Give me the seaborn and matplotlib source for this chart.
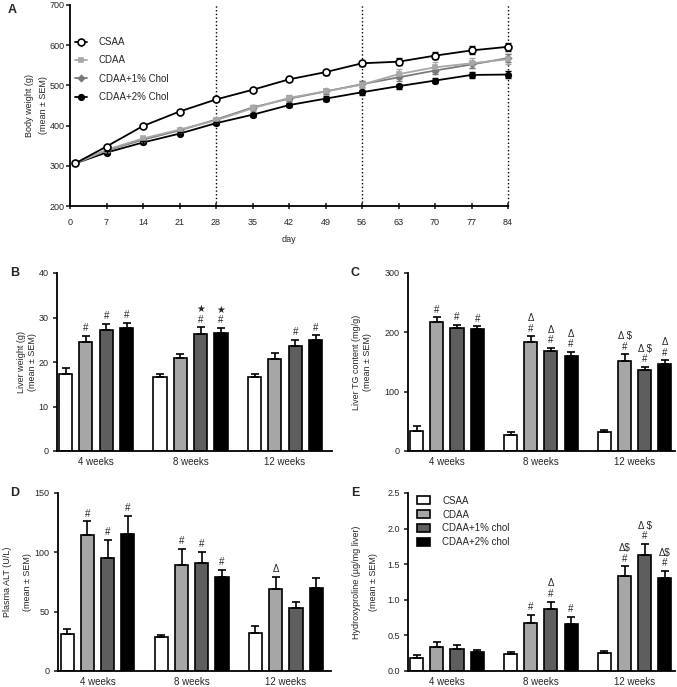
import numpy as np
import pandas as pd
import seaborn as sns
import matplotlib.pyplot as plt
import matplotlib.ticker as ticker

# body weight over time (panel A)
days = [1, 7, 14, 21, 28, 35, 42, 49, 56, 63, 70, 77, 84]
bw_csaa = [306, 348, 399, 435, 465, 489, 515, 533, 555, 559, 574, 587, 596]
bw_cdaa = [306, 340, 368, 390, 413, 443, 469, 485, 502, 528, 545, 555, 565]
bw_chol1 = [306, 338, 365, 388, 415, 445, 467, 485, 503, 520, 537, 552, 568]
bw_chol2 = [306, 333, 358, 380, 406, 427, 451, 467, 483, 498, 512, 526, 527]
bw_csaa_sem = [3, 4, 4, 4, 4, 5, 5, 6, 6, 8, 9, 10, 10]
bw_cdaa_sem = [3, 4, 4, 5, 5, 6, 6, 7, 8, 12, 12, 12, 12]
bw_chol1_sem = [3, 3, 4, 4, 5, 5, 6, 6, 7, 8, 8, 9, 10]
bw_chol2_sem = [3, 3, 4, 4, 4, 5, 5, 6, 6, 6, 6, 7, 8]
line_labels = ['CSAA', 'CDAA', 'CDAA+1% Chol', 'CDAA+2% Chol']
sample_days = [28, 56, 84]

# bar panels, rows = diet, columns = week
weeks = ['4 weeks', '8 weeks', '12 weeks']
diets = ['CSAA', 'CDAA', 'CDAA+1% chol', 'CDAA+2% chol']

liver_wt = [[17.2, 16.7, 16.6], [24.5, 20.8, 20.6], [27.3, 26.2, 23.7], [27.7, 26.5, 25.0]]
liver_wt_sem = [[1.5, 0.6, 0.7], [1.4, 1.1, 1.5], [1.2, 1.6, 1.2], [1.1, 1.2, 1.0]]
liver_wt_marks = [['', '', ''], ['#', '', ''], ['#', '\u2605\n#', '#'], ['#', '\u2605\n#', '#']]

liver_tg = [[33.7, 27.5, 31.5], [218, 184, 151], [208, 169, 136], [205, 160, 146]]
liver_tg_sem = [[8.4, 4.0, 4.5], [7.3, 9.0, 11.8], [4.5, 4.5, 6.0], [5.0, 7.3, 6.8]]
liver_tg_marks = [['', '', ''], ['#', '\u0394\n#', '\u0394 $\n#'],
                  ['#', '\u0394\n#', '\u0394 $\n#'], ['#', '\u0394\n#', '\u0394\n#']]

alt = [[31.2, 28.4, 32.3], [114.6, 89.3, 69.1], [95.2, 90.7, 52.8], [115.4, 79.5, 70.2]]
alt_sem = [[4.2, 1.7, 5.9], [11.5, 13.5, 10.1], [15.2, 9.6, 5.6], [15.2, 5.6, 7.9]]
alt_marks = [['', '', ''], ['#', '#', '\u0394'], ['#', '#', ''], ['#', '#', '']]

hyp = [[0.183, 0.243, 0.253], [0.342, 0.67, 1.334], [0.314, 0.871, 1.625], [0.272, 0.66, 1.306]]
hyp_sem = [[0.037, 0.03, 0.023], [0.06, 0.117, 0.136], [0.056, 0.103, 0.155], [0.023, 0.098, 0.098]]
hyp_marks = [['', '', ''], ['', '#', '\u0394$\n#'], ['', '\u0394\n#', '\u0394 $\n#'], ['', '#', '\u0394$\n#']]

bar_cols = ['white', '#a6a6a6', '#5e5e5e', 'black']
line_cols = ['black', '#a8a8a8', '#7a7a7a', 'black']

sns.set_style('ticks')
plt.rcParams['font.family'] = ['Liberation Sans', 'DejaVu Sans']
plt.rcParams['axes.linewidth'] = 1.3
plt.rcParams['axes.edgecolor'] = 'black'

W, H = 677.0, 687.0
fig = plt.figure(figsize=(W / 100, H / 100), dpi=100)


def px_axes(l, r, t, b):
    return fig.add_axes([l / W, 1 - b / H, (r - l) / W, (b - t) / H])


def bar_panel(ax, means, sems, marks, ylabel, ymax, ystep, xlim, lab_x, lab_ls, fmt=None, legend=False):
    rows = []
    for d, diet in enumerate(diets):
        for w, week in enumerate(weeks):
            rows.append((week, diet, means[d][w], sems[d][w]))
    df = pd.DataFrame(rows, columns=['week', 'diet', 'value', 'sem'])
    sns.barplot(data=df, x='week', y='value', hue='diet', order=weeks, hue_order=diets,
                palette=bar_cols, saturation=1, edgecolor='black', linewidth=1.2,
                width=0.86, gap=0.35, errorbar=None, legend=legend, ax=ax)
    bars = sorted([p for c in ax.containers for p in c], key=lambda p: p.get_x())
    for i, p in enumerate(bars):
        w, d = i // 4, i % 4
        xc = p.get_x() + p.get_width() / 2
        top = p.get_height()
        err = sems[d][w]
        ax.errorbar([xc], [top], yerr=[[0], [err]], fmt='none', ecolor='black',
                    elinewidth=1.2, capsize=3, capthick=1.2, zorder=1)
        if marks[d][w]:
            ax.annotate(marks[d][w], xy=(xc, top + err), xytext=(0, 2), textcoords='offset points',
                        ha='center', va='bottom', fontsize=7, linespacing=1.05)
    ax.set_xlim(xlim)
    ax.set_ylim(0, ymax)
    ax.yaxis.set_major_locator(ticker.MultipleLocator(ystep))
    if fmt:
        ax.yaxis.set_major_formatter(ticker.FormatStrFormatter(fmt))
    ax.set_xlabel('')
    ax.set_ylabel(ylabel, fontsize=6.5, linespacing=lab_ls)
    ax.yaxis.set_label_coords(lab_x, 0.5)
    ax.tick_params(axis='y', direction='out', length=3, width=1.2, labelsize=6.5, pad=3)
    ax.tick_params(axis='x', length=0, labelsize=7, pad=4.5)
    sns.despine(ax=ax)
    if legend:
        sns.move_legend(ax, 'upper left', bbox_to_anchor=(0.035, 0.985), title=None, frameon=False,
                        fontsize=7, handlelength=1.35, handleheight=0.93, handletextpad=1.2,
                        labelspacing=0.4, borderpad=0, borderaxespad=0)


# ---- panel A ----
axA = px_axes(70, 508, 5, 206)
series = [(bw_csaa, bw_csaa_sem, 'o', 'white', 5),
          (bw_cdaa, bw_cdaa_sem, 's', line_cols[1], 3),
          (bw_chol1, bw_chol1_sem, 'D', line_cols[2], 3),
          (bw_chol2, bw_chol2_sem, 'o', 'black', 4)]
for k, (vals, sem, mk, mfc, ms) in enumerate(series):
    col = line_cols[k]
    axA.errorbar(days, vals, yerr=sem, fmt='none', ecolor=col, elinewidth=1, capsize=2,
                 capthick=1, clip_on=False, zorder=2 + k)
    sns.lineplot(x=days, y=vals, ax=axA, color=col, lw=1.3, marker=mk, markersize=ms,
                 markerfacecolor=mfc, markeredgecolor=col if k else 'black', markeredgewidth=1.2,
                 label=line_labels[k], clip_on=False, zorder=6 - k)
for d in sample_days:
    axA.axvline(d, ls=':', color='black', lw=1, zorder=1, clip_on=False)
axA.set_xlim(0, 84)
axA.set_ylim(200, 700)
axA.xaxis.set_major_locator(ticker.MultipleLocator(7))
axA.yaxis.set_major_locator(ticker.MultipleLocator(100))
axA.set_xlabel('day', fontsize=6.5, labelpad=6)
axA.set_ylabel('Body weight (g)\n(mean \u00b1 SEM)', fontsize=6.5, linespacing=1.7)
axA.yaxis.set_label_coords(-0.051, 0.5)
axA.tick_params(axis='x', direction='inout', length=5, width=1.2, labelsize=6.5, pad=6)
axA.tick_params(axis='y', direction='out', length=3, width=1.2, labelsize=6.5, pad=1)
axA.legend(loc='upper left', bbox_to_anchor=(0.012, 0.84), frameon=False, fontsize=7,
           handlelength=1.2, handletextpad=1.2, labelspacing=0.85, borderpad=0, borderaxespad=0)
sns.despine(ax=axA)

# ---- panels B-E ----
axB = px_axes(57, 332, 273, 451)
bar_panel(axB, liver_wt, liver_wt_sem, liver_wt_marks, 'Liver weight (g)\n(mean \u00b1 SEM)',
          40, 10, (-0.413, 2.497), -0.071, 1.3)
axC = px_axes(408, 675, 273, 451)
bar_panel(axC, liver_tg, liver_tg_sem, liver_tg_marks, 'Liver TG content (mg/g)\n(mean \u00b1 SEM)',
          300, 100, (-0.415, 2.43), -0.133, 1.35)
axD = px_axes(58, 331, 493, 671)
bar_panel(axD, alt, alt_sem, alt_marks, 'Plasma ALT (U/L)\n(mean \u00b1 SEM)',
          150, 50, (-0.42, 2.48), -0.097, 2.5)
axE = px_axes(408, 675, 493, 671)
bar_panel(axE, hyp, hyp_sem, hyp_marks, 'Hydroxyproline (\u00b5g/mg liver)\n(mean \u00b1 SEM)',
          2.5, 0.5, (-0.415, 2.43), -0.114, 2.1, fmt='%.1f', legend=True)

for letter, x, y in [('A', 12, 10), ('B', 15, 273), ('C', 355, 273), ('D', 15, 493), ('E', 355, 493)]:
    fig.text(x / W, 1 - y / H, letter, fontsize=9, fontweight='bold', ha='center', va='center')

fig.savefig('out.png', dpi=100)
